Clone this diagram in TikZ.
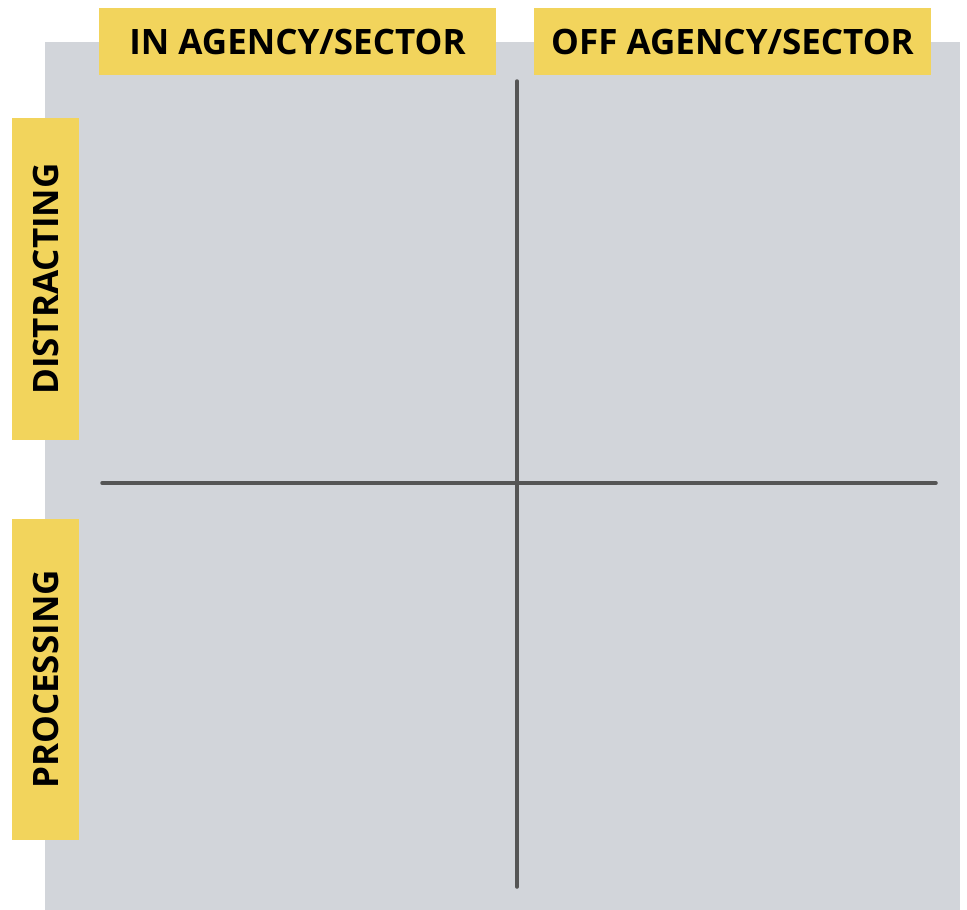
\documentclass[tikz,border=0pt]{standalone}
\usepackage{fontspec}
\setmainfont{Open Sans}
\definecolor{panelgray}{HTML}{D2D5DA}
\definecolor{tagyellow}{HTML}{F2D45C}
\definecolor{axisgray}{HTML}{555555}
\tikzset{
  tag/.style={fill=tagyellow, inner sep=0pt, font=\bfseries\fontsize{35}{35}\selectfont, text=black},
  axis/.style={axisgray, line width=3.5pt, line cap=round}
}
\begin{document}
\begin{tikzpicture}[x=1pt, y=-1pt]
        \useasboundingbox (0,0) rectangle (967,910);

        \fill[panelgray] (45,42) rectangle (960,910);

        % column headers
        \node[tag, minimum width=397pt, minimum height=67pt] (colin) at (297.5,41.5) {IN AGENCY/SECTOR};
        \node[tag, minimum width=397pt, minimum height=67pt] (coloff) at (732.5,41.5) {OFF AGENCY/SECTOR};

        % row headers
        \node[tag, rotate=90, minimum width=322pt, minimum height=67pt] (rowdis) at (45.5,279) {DISTRACTING};
        \node[tag, rotate=90, minimum width=321pt, minimum height=67pt] (rowproc) at (45.5,679.5) {PROCESSING};

        % the two axes
        \coordinate (top) at (517,81);
        \coordinate (bottom) at (517,887);
        \coordinate (left) at (102,483);
        \coordinate (right) at (936,483);
        \draw[axis] (top) -- (bottom);
        \draw[axis] (left) -- (right);
    \end{tikzpicture}
\end{document}
